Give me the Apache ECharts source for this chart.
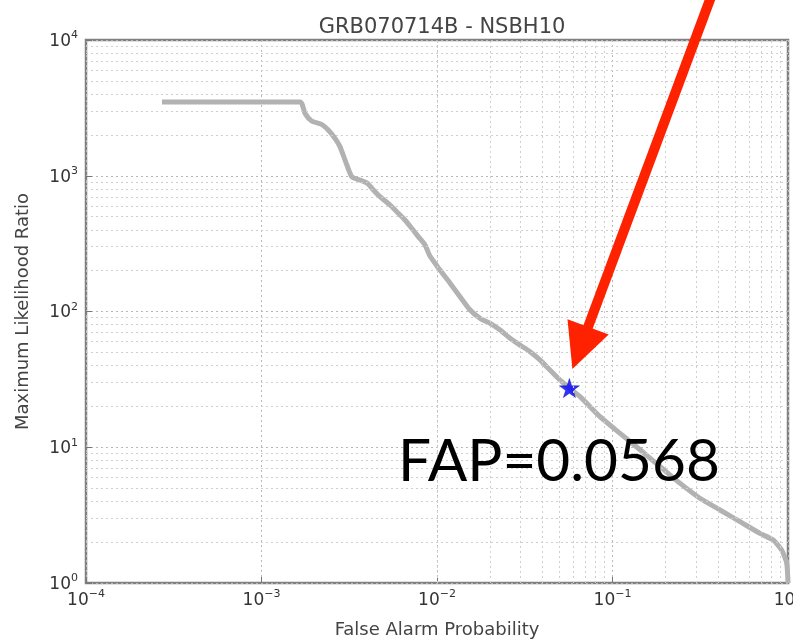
<!DOCTYPE html>
<html>
<head>
<meta charset="utf-8">
<script src="https://cdn.jsdelivr.net/npm/echarts@6/dist/echarts.min.js"></script>
<style>
html,body{margin:0;padding:0;background:#fff;}
#chart{width:793px;height:644px;}
</style>
</head>
<body>
<div id="chart"></div>
<script>
// ---- data ----
const titleText = 'GRB070714B - NSBH10';
const xName = 'False Alarm Probability';
const yName = 'Maximum Likelihood Ratio';
const curveFAP = [2.71e-4, 1.66e-3, 1.77e-3, 1.93e-3, 2.20e-3, 2.40e-3, 2.62e-3, 2.80e-3, 2.99e-3, 3.27e-3,
  3.64e-3, 4.01e-3, 4.34e-3, 4.73e-3, 5.40e-3, 6.02e-3, 6.57e-3, 7.18e-3, 7.82e-3, 8.55e-3,
  9.12e-3, 1.04e-2, 1.19e-2, 1.35e-2, 1.54e-2, 1.76e-2, 2.00e-2, 2.29e-2, 2.61e-2, 2.97e-2,
  3.39e-2, 3.86e-2, 4.40e-2, 5.02e-2, 5.68e-2, 6.53e-2, 8.49e-2, 0.110, 0.144, 0.187,
  0.243, 0.315, 0.410, 0.533, 0.692, 0.824, 0.920, 0.983, 1.0];
const curveMLR = [3500, 3500, 2880, 2530, 2390, 2170, 1890, 1640, 1310, 984,
  930, 880, 785, 701, 609, 529, 472, 410, 356, 309,
  256, 202, 161, 129, 103, 89, 82, 73, 63.5, 56.6,
  50.6, 44, 37.1, 31.3, 27.3, 23.6, 16.8, 12.7, 9.55, 7.19,
  5.42, 4.21, 3.45, 2.83, 2.32, 2.07, 1.75, 1.40, 1.0];
const starPoint = [0.0568, 27.3];
const annotationText = 'FAP=0.0568';
const xDecades = [-4, -3, -2, -1, 0];
const yDecades = [0, 1, 2, 3, 4];

// minor grid values (2..9 × each decade)
function minorValues(decs) {
  const out = [];
  for (let i = 0; i < decs.length - 1; i++) {
    for (let m = 2; m <= 9; m++) out.push(m * Math.pow(10, decs[i]));
  }
  return out;
}
const xMinor = minorValues(xDecades);
const yMinor = minorValues(yDecades);

const curveData = curveFAP.map((v, i) => [v, curveMLR[i]]);

function supLabel(v) {
  const e = Math.round(Math.log10(v));
  return '{b|10}{s|' + (e < 0 ? '\u2212' + (-e) : e) + '}';
}
const richLbl = {
  b: {fontSize: 17, color: '#333', fontFamily: 'DejaVu Sans', verticalAlign: 'bottom'},
  s: {fontSize: 11, color: '#333', fontFamily: 'DejaVu Sans', verticalAlign: 'top', padding: [0, 0, 9, 0]}
};
const gridLine = {show: true, lineStyle: {color: '#b8b8b8', type: [2, 3], width: 1}};

const chart = echarts.init(document.getElementById('chart'), null, {renderer: 'canvas'});
const option = {
  animation: false,
  backgroundColor: '#fff',
  title: {
    text: titleText, left: 437, top: 12, textAlign: 'center',
    textStyle: {fontFamily: 'DejaVu Sans', fontSize: 21, fontWeight: 'normal', color: '#444'}
  },
  grid: {left: 86, right: 5, top: 40, bottom: 61, show: true, borderColor: '#808080', borderWidth: 2.5,
    backgroundColor: 'transparent', containLabel: false, outerBoundsMode: 'none'},
  xAxis: {
    type: 'log', logBase: 10, min: Math.pow(10, xDecades[0]), max: Math.pow(10, xDecades[xDecades.length - 1]),
    name: xName, nameLocation: 'middle', nameGap: 38,
    nameTextStyle: {fontFamily: 'DejaVu Sans', fontSize: 18, color: '#444'},
    axisLine: {show: false},
    axisTick: {show: true, inside: true, length: 6, lineStyle: {color: '#777'}},
    axisLabel: {formatter: supLabel, rich: richLbl, margin: 6, showMaxLabel: true, showMinLabel: true},
    splitLine: gridLine
  },
  yAxis: {
    type: 'log', logBase: 10, min: Math.pow(10, yDecades[0]), max: Math.pow(10, yDecades[yDecades.length - 1]),
    name: yName, nameLocation: 'middle', nameGap: 54,
    nameTextStyle: {fontFamily: 'DejaVu Sans', fontSize: 18, color: '#444'},
    axisLine: {show: false},
    axisTick: {show: true, inside: true, length: 6, lineStyle: {color: '#777'}},
    axisLabel: {formatter: supLabel, rich: richLbl, margin: 8, showMaxLabel: true, showMinLabel: true},
    splitLine: gridLine
  },
  series: [
    {
      type: 'line', data: [], z: 1, silent: true,
      markLine: {
        silent: true, symbol: 'none', label: {show: false}, animation: false,
        lineStyle: {color: '#cfcfcf', type: [2, 3], width: 1},
        data: xMinor.map(v => ({xAxis: v})).concat(yMinor.map(v => ({yAxis: v})))
      }
    },
    {
      type: 'line', data: curveData, showSymbol: false, z: 3, silent: true,
      lineStyle: {color: '#b2b2b2', width: 5}, smooth: 0.2
    },
    {
      type: 'scatter', data: [starPoint], z: 4,
      symbol: 'path://M50,0 L61,35 L98,35 L68,57 L79,91 L50,70 L21,91 L32,57 L2,35 L39,35 Z',
      symbolSize: [20, 19], itemStyle: {color: '#0000ff', borderColor: '#00008b', borderWidth: 0.5}
    }
  ]
};
chart.setOption(option);

// annotation arrow pointing at the star, and the FAP text
const sp = chart.convertToPixel({xAxisIndex: 0, yAxisIndex: 0}, starPoint);
const tip = [sp[0] + 3, sp[1] - 19];
const dir = [0.349, -0.937];
const perp = [0.937, 0.349];
const headLen = 45, headHalf = 22;
const base = [tip[0] + dir[0] * headLen, tip[1] + dir[1] * headLen];
const tail = [tip[0] + dir[0] * 420, tip[1] + dir[1] * 420];
chart.setOption({
  graphic: [
    {type: 'line', z: 100, shape: {x1: base[0] - dir[0] * 4, y1: base[1] - dir[1] * 4, x2: tail[0], y2: tail[1]},
      style: {stroke: '#ff2200', lineWidth: 10}},
    {type: 'polygon', z: 100, shape: {points: [tip,
      [base[0] + perp[0] * headHalf, base[1] + perp[1] * headHalf],
      [base[0] - perp[0] * headHalf, base[1] - perp[1] * headHalf]]},
      style: {fill: '#ff2200'}},
    {type: 'text', z: 100, x: 398, y: 462,
      style: {text: annotationText, font: '58.5px Lato', fill: '#000', verticalAlign: 'middle', align: 'left'}}
  ]
});
</script>
</body>
</html>
